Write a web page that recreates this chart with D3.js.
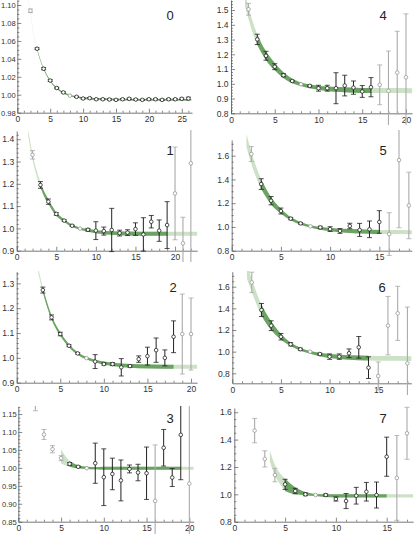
<!DOCTYPE html>
<html>
<head>
<meta charset="utf-8">
<script src="https://cdnjs.cloudflare.com/ajax/libs/d3/7.8.5/d3.min.js"></script>
<style>
  body { margin: 0; background: #fff; }
  svg { display: block; }
  text { font-family: "Liberation Sans", Arial, sans-serif; }
</style>
</head>
<body>
<svg id="chart" width="415" height="534"></svg>
<script>
// ---- data: points (x, value, error) per panel ----
const xs0 = [2,3,4,5,6,7,8,9,10,11,12,13,14,15,16,17,18,19,20,21,22,23,24,25,26];
const ys0 = [1.0936,1.0513,1.029,1.0158,1.0075,1.0026,0.999,0.9977,0.9958,0.9962,0.995,0.995,0.9947,0.9943,0.995,0.9955,0.9947,0.9943,0.995,0.995,0.9943,0.995,0.995,0.9955,0.9958];
const es0 = [0.002,0.001,0.0012,0.001,0.0008,0.0007,0,0.0006,0.0007,0.0007,0.0007,0.0007,0.0007,0.0007,0.0007,0.0007,0.0007,0.0007,0.0008,0.0008,0.0008,0.0008,0.0008,0.0009,0.0015];

const xs1 = [2,3,4,5,6,7,8,9,10,11,12,13,14,15,16,17,18,19,20,21,22];
const ys1 = [1.33,1.195,1.12,1.065,1.035,1.012,0.999,0.994,0.99,0.988,0.993,0.979,0.981,0.997,0.973,1.03,0.99,1.015,1.157,0.933,1.292];
const es1 = [0.019,0.015,0.012,0.006,0.004,0.003,0,0.006,0.04,0.018,0.097,0.013,0.013,0.028,0.075,0.028,0.048,0.105,0.208,0.117,0.5];

const xs2 = [3,4,5,6,7,8,9,10,11,12,13,14,15,16,17,18,19,20];
const ys2 = [1.273,1.163,1.096,1.049,1.018,0.999,0.985,0.975,0.975,0.962,0.967,0.995,1.007,1.031,1.0,1.085,1.096,1.096];
const es2 = [0.012,0.01,0.007,0.004,0.003,0,0.028,0.004,0.006,0.035,0.004,0.013,0.036,0.049,0.032,0.064,0.161,0.145];

const xs3 = [2,3,4,5,6,7,8,9,10,11,12,13,14,15,16,17,18,19,20];
const ys3 = [1.19,1.093,1.052,1.027,1.011,1.003,0.999,1.013,0.974,0.983,0.965,0.997,0.987,0.985,0.908,1.056,0.973,1.092,0.956];
const es3 = [0.031,0.014,0.01,0.007,0.004,0.002,0,0.056,0.079,0.044,0.057,0.011,0.023,0.073,0.156,0.051,0.025,0.125,0.3];

const xs4 = [2,3,4,5,6,7,8,9,10,11,12,13,14,15,16,17,18,19,20];
const ys4 = [1.505,1.301,1.19,1.116,1.058,1.019,0.997,0.986,0.97,0.97,0.97,0.988,0.974,0.948,0.977,0.993,0.952,1.076,1.044];
const es4 = [0.04,0.035,0.03,0.02,0.01,0.005,0,0.006,0.02,0.02,0.105,0.07,0.045,0.04,0.065,0.135,0.27,0.28,0.43];

const xs5 = [2,3,4,5,6,7,8,9,10,11,12,13,14,15,16,17,18];
const ys5 = [1.614,1.361,1.221,1.134,1.07,1.03,1.005,0.996,0.982,0.966,1.008,0.975,0.98,1.042,0.94,1.563,1.181];
const es5 = [0.063,0.045,0.035,0.025,0.01,0.007,0,0.01,0.02,0.02,0.023,0.055,0.07,0.095,0.18,0.57,0.28];

const xs6 = [2,3,4,5,6,7,8,9,10,11,12,13,14,15,16,17,18];
const ys6 = [1.64,1.385,1.24,1.138,1.068,1.022,1.0,0.978,0.954,0.954,0.985,1.04,0.852,0.775,1.24,1.354,0.892];
const es6 = [0.094,0.06,0.045,0.03,0.015,0.01,0,0.008,0.025,0.025,0.04,0.1,0.1,0.13,0.27,0.25,0.52];

const xs7 = [2,3,4,5,6,7,8,9,10,11,12,13,14,15,16,17];
const ys7 = [1.466,1.259,1.141,1.073,1.024,1.0,0.995,0.995,0.966,0.951,0.99,1.019,0.995,1.275,1.12,1.446];
const es7 = [0.089,0.059,0.049,0.037,0.02,0.01,0,0.008,0.015,0.055,0.061,0.068,0.095,0.143,0.31,0.19];

// ---- fit bands: x, centre, half width ----
const bx0 = [1.67,2,2.5,3,3.5,4,5,6,7,8,9,10,12,15,20,26,26.55];
const by0 = [1.105,1.09,1.067,1.051,1.0386,1.029,1.0155,1.0073,1.0023,0.9993,0.9974,0.9963,0.9952,0.9947,0.9945,0.9945,0.9945];
const bw0 = [0.0008,0.0008,0.0008,0.0008,0.0008,0.0008,0.0008,0.0008,0.0008,0.0008,0.0008,0.0008,0.0008,0.0008,0.0008,0.0008,0.0008];

const bx1 = [1.45,2,2.5,3,3.5,4,5,6,7,8,9,10,12,14,17,19,22.8];
const by1 = [1.43,1.32,1.25,1.195,1.152,1.12,1.065,1.035,1.012,0.999,0.991,0.985,0.979,0.977,0.976,0.976,0.976];
const bw1 = [0.014,0.013,0.012,0.012,0.011,0.01,0.008,0.006,0.005,0.005,0.006,0.007,0.008,0.009,0.009,0.009,0.009];

const bx2 = [2.45,3,3.5,4,5,6,7,8,9,10,12,14,17,18,20.7];
const by2 = [1.356,1.273,1.213,1.163,1.096,1.049,1.018,0.999,0.987,0.979,0.970,0.966,0.964,0.964,0.964];
const bw2 = [0.01,0.009,0.009,0.008,0.007,0.006,0.005,0.005,0.005,0.006,0.007,0.008,0.008,0.008,0.008];

const bx3 = [5,5.5,6,6.5,7,8,9,10,14,19,20.5];
const by3 = [1.032,1.02,1.011,1.006,1.003,1.0,0.999,0.999,0.999,0.999,0.999];
const bw3 = [0.02,0.013,0.008,0.006,0.004,0.003,0.003,0.004,0.004,0.004,0.004];

const bx4 = [1.6,2,2.5,3,3.5,4,5,6,7,8,9,10,11,12,14,16,18,20.7];
const by4 = [1.57,1.48,1.38,1.30,1.24,1.19,1.116,1.058,1.019,0.997,0.982,0.973,0.966,0.962,0.957,0.955,0.954,0.953];
const bw4 = [0.045,0.04,0.038,0.035,0.032,0.03,0.025,0.02,0.015,0.012,0.013,0.014,0.015,0.016,0.017,0.017,0.017,0.017];

const bx5 = [1.5,2,2.5,3,3.5,4,5,6,7,8,9,10,12,14,15,16,18.3];
const by5 = [1.73,1.58,1.46,1.36,1.285,1.22,1.134,1.07,1.03,1.005,0.988,0.977,0.966,0.96,0.958,0.957,0.956];
const bw5 = [0.055,0.05,0.045,0.04,0.035,0.03,0.02,0.013,0.011,0.01,0.012,0.014,0.016,0.017,0.017,0.017,0.017];

const bx6 = [1.5,2,2.5,3,3.5,4,5,6,7,8,9,10,12,14,16,18.4];
const by6 = [1.74,1.61,1.49,1.385,1.305,1.24,1.138,1.068,1.022,0.993,0.973,0.96,0.946,0.94,0.937,0.936];
const bw6 = [0.065,0.06,0.055,0.05,0.045,0.04,0.025,0.016,0.014,0.012,0.015,0.018,0.02,0.021,0.022,0.022];

const bx7 = [3.5,4,4.5,5,5.5,6,7,8,9,10,12,15,17.6];
const by7 = [1.28,1.175,1.115,1.07,1.045,1.027,1.005,0.995,0.99,0.988,0.988,0.988,0.988];
const bw7 = [0.04,0.04,0.04,0.045,0.035,0.025,0.012,0.008,0.01,0.012,0.012,0.012,0.012];

// fit ranges and points left out of the fit
const fits = [[3,26],[3,19],[3,18],[6,19],[3,16],[3,15],[3,14],[5,15]];
const skips = [[],[],[],[16],[],[],[],[]];

// tick labels
const xTicks0 = [0,5,10,15,20,25];
const xTicks1 = [0,5,10,15,20];
const xTicks2 = [0,5,10,15,20];
const xTicks3 = [0,5,10,15,20];
const xTicks4 = [0,5,10,15,20];
const xTicks5 = [0,5,10,15];
const xTicks6 = [0,5,10,15];
const xTicks7 = [0,5,10,15];
const yTicks0 = [0.98,1.00,1.02,1.04,1.06,1.08,1.10];
const yTicks1 = [0.9,1.0,1.1,1.2,1.3,1.4];
const yTicks2 = [0.9,1.0,1.1,1.2,1.3];
const yTicks3 = [0.85,0.90,0.95,1.00,1.05,1.10,1.15];
const yTicks4 = [0.8,0.9,1.0,1.1,1.2,1.3,1.4,1.5];
const yTicks5 = [0.8,1.0,1.2,1.4,1.6];
const yTicks6 = [0.8,1.0,1.2,1.4,1.6];
const yTicks7 = [0.8,1.0,1.2,1.4,1.6];

// ---- layout (pixel placement of each panel) ----
const panels = [
  { n: 0, xs: xs0, ys: ys0, es: es0, bx: bx0, by: by0, bw: bw0, xt: xTicks0, yt: yTicks0, ym: 0.005, fmt: '.2f',
    xd: [0, 26.55], xr: [17.3, 192], yd: [0.98, 1.1056], yr: [112.7, 0], clip: [0, 125], lab: [170, 15] },
  { n: 1, xs: xs1, ys: ys1, es: es1, bx: bx1, by: by1, bw: bw1, xt: xTicks1, yt: yTicks1, ym: 0.02, fmt: '.1f',
    xd: [0, 22.8], xr: [16.7, 197.2], yd: [0.9, 1.437], yr: [250.7, 131], clip: [130, 262], lab: [170, 150] },
  { n: 2, xs: xs2, ys: ys2, es: es2, bx: bx2, by: by2, bw: bw2, xt: xTicks2, yt: yTicks2, ym: 0.02, fmt: '.1f',
    xd: [0, 20.7], xr: [16.7, 197.1], yd: [0.9, 1.347], yr: [382.7, 271.7], clip: [271, 392], lab: [173, 287] },
  { n: 3, xs: xs3, ys: ys3, es: es3, bx: bx3, by: by3, bw: bw3, xt: xTicks3, yt: yTicks3, ym: 0.01, fmt: '.2f',
    xd: [0, 20.5], xr: [18.3, 193.6], yd: [0.85, 1.171], yr: [521.7, 406.5], clip: [406, 534], lab: [170, 418] },
  { n: 4, xs: xs4, ys: ys4, es: es4, bx: bx4, by: by4, bw: bw4, xt: xTicks4, yt: yTicks4, ym: 0.02, fmt: '.1f',
    xd: [0, 20.7], xr: [231, 412.1], yd: [0.8, 1.568], yr: [113.3, 0], clip: [0, 125], lab: [383, 15] },
  { n: 5, xs: xs5, ys: ys5, es: es5, bx: bx5, by: by5, bw: bw5, xt: xTicks5, yt: yTicks5, ym: 0.05, fmt: '.1f',
    xd: [0, 18.3], xr: [231.7, 411.8], yd: [0.8, 1.732], yr: [250.7, 140], clip: [130, 256], lab: [383, 150] },
  { n: 6, xs: xs6, ys: ys6, es: es6, bx: bx6, by: by6, bw: bw6, xt: xTicks6, yt: yTicks6, ym: 0.05, fmt: '.1f',
    xd: [0, 18.4], xr: [232.3, 411.3], yd: [0.7076, 1.7386], yr: [383.3, 271.7], clip: [271, 395], lab: [382, 287] },
  { n: 7, xs: xs7, ys: ys7, es: es7, bx: bx7, by: by7, bw: bw7, xt: xTicks7, yt: yTicks7, ym: 0.05, fmt: '.1f',
    xd: [0, 17.6], xr: [234.3, 413.1], yd: [0.8, 1.631], yr: [521.7, 408], clip: [406, 534], lab: [383, 418] }
];

const LIGHT = '#cde1c7';
const DARK = '#5f9c56';
const INK = '#222';
const GREY = '#aaa';

const svg = d3.select('#chart');
const defs = svg.append('defs');

panels.forEach(p => {
  const sx = d3.scaleLinear().domain(p.xd).range(p.xr);
  const sy = d3.scaleLinear().domain(p.yd).range(p.yr);
  const fit = fits[p.n];
  const skip = skips[p.n];
  const g = svg.append('g').attr('class', 'panel' + p.n);
  const twoDec = p.fmt === '.2f';

  // axes (ticks point inwards)
  const xMinor = d3.range(1, p.xd[1], 1).filter(v => v % 5 !== 0);
  const yLo = p.yt[0];
  const yMinor = d3.range(yLo, p.yd[1], p.ym).filter(v => !p.yt.some(t => Math.abs(t - v) < 1e-6));

  g.append('g').attr('transform', `translate(0,${p.yr[0]})`)
    .call(d3.axisBottom(sx).tickValues(p.xt).tickSizeInner(-4).tickSizeOuter(0).tickPadding(3.5).tickFormat(d3.format('d')));
  g.append('g').attr('transform', `translate(0,${p.yr[0]})`)
    .call(d3.axisBottom(sx).tickValues(xMinor).tickSizeInner(-2).tickSizeOuter(0).tickFormat(''))
    .select('.domain').remove();
  const ya = g.append('g').attr('transform', `translate(${p.xr[0]},0)`)
    .call(d3.axisLeft(sy).tickValues(p.yt).tickSizeInner(-4).tickSizeOuter(0).tickPadding(twoDec ? 1.5 : 2.5).tickFormat(d3.format(p.fmt)));
  g.append('g').attr('transform', `translate(${p.xr[0]},0)`)
    .call(d3.axisLeft(sy).tickValues(yMinor).tickSizeInner(-2).tickSizeOuter(0).tickFormat(''))
    .select('.domain').remove();

  g.selectAll('.domain').attr('stroke', '#555').attr('stroke-width', 0.8);
  g.selectAll('.tick line').attr('stroke', '#555').attr('stroke-width', 0.7);
  g.selectAll('.tick text').attr('font-size', 8.5).attr('fill', '#333')
    .attr('font-family', '"Liberation Sans", Arial, sans-serif');
  if (twoDec) ya.selectAll('.tick text').attr('font-size', 7.6);

  // clip region for bands and error bars
  const clipId = 'clip' + p.n;
  defs.append('clipPath').attr('id', clipId).append('rect')
    .attr('x', p.xr[0] - 4).attr('y', p.clip[0])
    .attr('width', p.xr[1] - p.xr[0] + 6).attr('height', p.clip[1] - p.clip[0]);
  const plot = g.append('g').attr('clip-path', `url(#${clipId})`);

  const band = p.bx.map((x, i) => ({ x: x, y: p.by[i], w: p.bw[i] }));
  const area = d3.area()
    .x(d => sx(d.x))
    .y0(d => sy(d.y - d.w))
    .y1(d => sy(d.y + d.w))
    .curve(d3.curveMonotoneX);

  plot.append('path').datum(band).attr('d', area).attr('fill', LIGHT);
  plot.append('path').datum(band.filter(d => d.x >= fit[0] && d.x <= fit[1]))
    .attr('d', area).attr('fill', DARK).attr('fill-opacity', 0.9);

  const pts = p.xs.map((x, i) => ({
    x: x, y: p.ys[i], e: p.es[i],
    inFit: p.es[i] > 0 && x >= fit[0] && x <= fit[1] && !skip.includes(x)
  }));
  // grey ones underneath, black on top
  pts.sort((a, b) => (a.inFit ? 1 : 0) - (b.inFit ? 1 : 0));

  const bars = plot.selectAll('.bar').data(pts.filter(d => d.e > 0)).enter().append('g')
    .attr('stroke', d => d.inFit ? INK : GREY)
    .attr('stroke-width', d => d.inFit ? 1 : 1.1);
  bars.append('line')
    .attr('x1', d => sx(d.x)).attr('x2', d => sx(d.x))
    .attr('y1', d => sy(d.y - d.e)).attr('y2', d => sy(d.y + d.e));
  bars.append('line')
    .attr('x1', d => sx(d.x) - 2.5).attr('x2', d => sx(d.x) + 2.5)
    .attr('y1', d => sy(d.y - d.e)).attr('y2', d => sy(d.y - d.e))
    .attr('stroke-width', 0.8);
  bars.append('line')
    .attr('x1', d => sx(d.x) - 2.5).attr('x2', d => sx(d.x) + 2.5)
    .attr('y1', d => sy(d.y + d.e)).attr('y2', d => sy(d.y + d.e))
    .attr('stroke-width', 0.8);

  plot.selectAll('.pt').data(pts.filter(d => d.y <= p.yd[1] + 0.001)).enter().append('circle')
    .attr('cx', d => sx(d.x)).attr('cy', d => sy(d.y)).attr('r', 1.8)
    .attr('fill', '#fff')
    .attr('stroke', d => d.inFit ? INK : '#999')
    .attr('stroke-width', 0.8);

  // panel number
  g.append('text').attr('x', p.lab[0]).attr('y', p.lab[1])
    .attr('text-anchor', 'middle').attr('dominant-baseline', 'central')
    .attr('font-size', 13).attr('fill', '#222')
    .text(p.n);
});
</script>
</body>
</html>
